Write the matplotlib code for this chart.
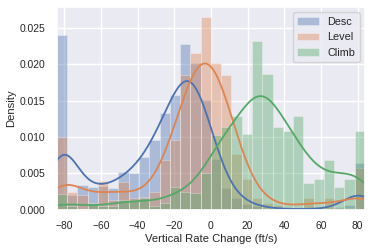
import numpy as np
import matplotlib
matplotlib.use("Agg")
import matplotlib.pyplot as plt
import seaborn as sns

sns.set_theme(style="darkgrid")
plt.rcParams['font.family'] = ['Liberation Sans', 'DejaVu Sans']

# 30 bins over the clipped range of vertical rate change (ft/s)
edges = np.linspace(-84, 84, 31)
centers = (edges[:-1] + edges[1:]) / 2
width = edges[1] - edges[0]

# density per bin
desc = [0.0240, 0.0020, 0.0034, 0.0031, 0.0033, 0.0030, 0.0052, 0.0051, 0.0072, 0.0096,
        0.0133, 0.0158, 0.0228, 0.0201, 0.0151, 0.0070, 0.0030, 0.0017, 0.0008, 0.0006,
        0.0002, 0.0002, 0.0001, 0.0000, 0.0003, 0.0000, 0.0002, 0.0004, 0.0007, 0.0064]
level = [0.0100, 0.0025, 0.0021, 0.0010, 0.0039, 0.0013, 0.0038, 0.0017, 0.0018, 0.0025,
         0.0068, 0.0096, 0.0185, 0.0215, 0.0265, 0.0202, 0.0185, 0.0076, 0.0043, 0.0017,
         0.0010, 0.0007, 0.0003, 0.0003, 0.0017, 0.0003, 0.0017, 0.0002, 0.0002, 0.0058]
climb = [0.0022, 0.0006, 0.0001, 0.0008, 0.0006, 0.0006, 0.0014, 0.0012, 0.0017, 0.0005,
         0.0010, 0.0031, 0.0025, 0.0023, 0.0051, 0.0103, 0.0113, 0.0129, 0.0104, 0.0232,
         0.0186, 0.0113, 0.0108, 0.0129, 0.0037, 0.0042, 0.0068, 0.0031, 0.0042, 0.0108]

labels = ['Desc', 'Level', 'Climb']
bandwidths = [8.2, 9.2, 9.4]
colors = sns.color_palette('deep')[:3]


def smooth(values, bw, grid):
    mass = np.asarray(values) * width
    z = (grid[:, None] - centers[None, :]) / bw
    return (mass * np.exp(-0.5 * z ** 2)).sum(axis=1) / (bw * np.sqrt(2 * np.pi))


fig, ax = plt.subplots(figsize=(3.74, 2.49), dpi=100)
fig.subplots_adjust(left=0.152, right=0.976, bottom=0.157, top=0.972)

grid = np.linspace(-84, 84, 400)
for vals, lab, bw, c in zip([desc, level, climb], labels, bandwidths, colors):
    ax.hist(centers, bins=edges, weights=vals, color=c, alpha=0.4, label=lab,
            edgecolor='white', linewidth=0.5)
    ax.plot(grid, smooth(vals, bw, grid), color=c, lw=1.3)

ax.set_xlim(-84, 84)
ax.set_xticks(np.arange(-80, 81, 20))
ax.set_yticks(np.arange(0, 0.0251, 0.005))
ax.tick_params(labelsize=7.4, pad=2)
ax.set_xlabel('Vertical Rate Change (ft/s)', fontsize=8.1, labelpad=2)
ax.set_ylabel('Density', fontsize=8.1, labelpad=3)
ax.legend(loc='upper right', fontsize=7.8)

fig.savefig('out.png', dpi=100)
